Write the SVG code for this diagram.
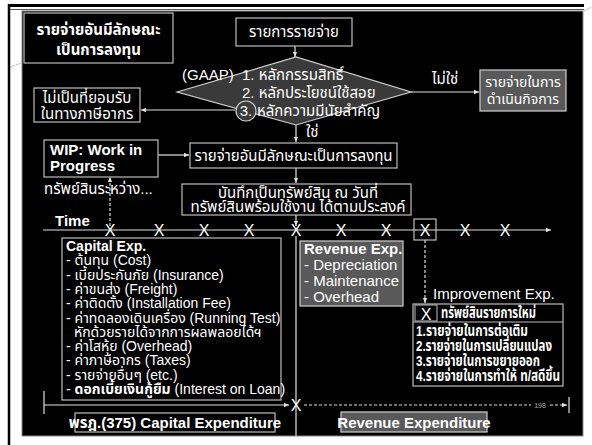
<svg xmlns="http://www.w3.org/2000/svg" width="592" height="445" viewBox="0 0 592 445">
<defs>
<style>
.t{font-family:"Liberation Sans","Noto Sans Thai","Noto Sans","DejaVu Sans",sans-serif;fill:#fff;font-size:15px}
.s{font-size:14px}
.b{font-weight:bold}
.m{text-anchor:middle}
.box{fill:#000;stroke:#bdbdbd;stroke-width:1.2}
.gbox{fill:#595959;stroke:#cfcfcf;stroke-width:1.2}
.ln{stroke:#e0e0e0;stroke-width:1.2;fill:none}
.dash{stroke-dasharray:3 2}
.x{font-family:"Liberation Sans","DejaVu Sans",sans-serif;fill:#fff;font-size:16px;text-anchor:middle}
</style>
<marker id="ah" viewBox="0 0 8 8" refX="7" refY="4" markerWidth="6" markerHeight="6" orient="auto" markerUnits="userSpaceOnUse">
<path d="M0,1 L7,4 L0,7 z" fill="#e0e0e0"/>
</marker>
</defs>
<rect width="592" height="445" fill="#fff"/>
<g id="frame">
<line x1="9" y1="5.5" x2="584" y2="5.5" stroke="#000" stroke-width="3"/>
<line x1="9" y1="9.5" x2="584" y2="9.5" stroke="#555" stroke-width="1"/>
<line x1="9" y1="4" x2="9" y2="445" stroke="#000" stroke-width="2.5"/>
<rect x="22" y="11" width="561" height="425" fill="#000" stroke="#888" stroke-width="1"/>
<line x1="10" y1="67" x2="22" y2="63" stroke="#999" stroke-width="0.8" stroke-dasharray="2 1"/>
<line x1="584" y1="11" x2="592" y2="7" stroke="#999" stroke-width="0.8" stroke-dasharray="2 1"/>
</g>
<g id="connectors">
<line class="ln" x1="295" y1="46" x2="295" y2="57" marker-end="url(#ah)"/>
<line class="ln" x1="411" y1="92" x2="479" y2="92" marker-end="url(#ah)"/>
<line class="ln" x1="235" y1="110" x2="141" y2="110" marker-end="url(#ah)"/>
<line class="ln" x1="296" y1="125" x2="296" y2="142" marker-end="url(#ah)"/>
<line class="ln" x1="158" y1="155" x2="189" y2="155" marker-end="url(#ah)"/>
<line class="ln" x1="296" y1="168" x2="296" y2="183" marker-end="url(#ah)"/>
<line class="ln" x1="296" y1="215" x2="296" y2="226" marker-end="url(#ah)"/>
<line class="ln dash" x1="110" y1="226" x2="110" y2="177" marker-end="url(#ah)"/>
<line class="ln dash" x1="425" y1="240" x2="425" y2="303" marker-end="url(#ah)"/>
<line class="ln" x1="43" y1="230" x2="551" y2="230" marker-end="url(#ah)"/>
<line class="ln" x1="296" y1="236" x2="296" y2="436"/>
<line class="ln" x1="44" y1="391" x2="44" y2="414"/>
<line class="ln" x1="44" y1="405" x2="289" y2="405" marker-end="url(#ah)"/>
<line class="ln dash" x1="304" y1="405" x2="531" y2="405"/>
<line class="ln dash" x1="550" y1="405" x2="567" y2="405" marker-end="url(#ah)"/>
<line class="ln" x1="569" y1="397" x2="569" y2="413"/>
</g>
<g id="title">
<rect class="box" x="24" y="13" width="149" height="50"/>
<text class="t b m" x="98.5" y="35" font-size="16">รายจ่ายอันมีลักษณะ</text>
<text class="t b m" x="98.5" y="55" font-size="16">เป็นการลงทุน</text>
</g>
<g id="expense">
<rect class="box" x="236" y="18" width="116" height="28"/>
<text class="t m" x="294" y="37" font-size="16">รายการรายจ่าย</text>
</g>
<g id="decision">
<polygon points="177,92 296,57 411,92 296,125" fill="#3a3a3a" stroke="#cfcfcf" stroke-width="1.2"/>
<text class="t" x="182" y="80">(GAAP)</text>
<text class="t" x="242" y="80">1. หลักกรรมสิทธิ์</text>
<text class="t" x="242" y="98">2. หลักประโยชน์ใช้สอย</text>
<circle cx="246" cy="111" r="10" fill="#3a3a3a" stroke="#cfcfcf" stroke-width="1.2"/>
<text class="t m" x="246" y="116">3.</text>
<text class="t" x="257" y="116">หลักความมีนัยสำคัญ</text>
</g>
<g id="label-no">
<text class="t" x="432" y="84" font-size="16">ไม่ใช่</text>
</g>
<g id="label-yes">
<text class="t" x="306" y="137" font-size="16">ใช่</text>
</g>
<g id="operating">
<rect class="gbox" x="480" y="70" width="86" height="41"/>
<text class="t s m" x="523" y="87">รายจ่ายในการ</text>
<text class="t s m" x="523" y="104">ดำเนินกิจการ</text>
</g>
<g id="not-tax">
<rect class="box" x="34" y="88" width="106" height="34"/>
<text class="t m" x="87" y="103">ไม่เป็นที่ยอมรับ</text>
<text class="t m" x="87" y="119">ในทางภาษีอากร</text>
</g>
<g id="capital">
<rect class="box" x="190" y="143" width="207" height="25"/>
<text class="t m" x="293.5" y="161">รายจ่ายอันมีลักษณะเป็นการลงทุน</text>
</g>
<g id="wip">
<rect class="box" x="44" y="140" width="114" height="37"/>
<text class="t b" x="50" y="155" font-size="17">WIP: Work in</text>
<text class="t b" x="50" y="171" font-size="17">Progress</text>
</g>
<g id="wip-label">
<text class="t" x="44" y="194">ทรัพย์สินระหว่าง...</text>
</g>
<g id="record">
<rect class="box" x="182" y="184" width="229" height="31"/>
<text class="t m" x="298" y="198">บันทึกเป็นทรัพย์สิน ณ วันที่</text>
<text class="t m" x="298" y="212">ทรัพย์สินพร้อมใช้งาน ได้ตามประสงค์</text>
</g>
<g id="timeline">
<text class="t b" x="55" y="226" font-size="16">Time</text>
<text class="x" x="110" y="236">X</text>
<text class="x" x="159" y="236">X</text>
<text class="x" x="204" y="236">X</text>
<text class="x" x="249" y="236">X</text>
<text class="x" x="296" y="236">X</text>
<text class="x" x="341" y="236">X</text>
<text class="x" x="386" y="236">X</text>
<rect x="414" y="219" width="22" height="21" fill="none" stroke="#bdbdbd" stroke-width="1.2"/>
<text class="x" x="425" y="236">X</text>
<text class="x" x="465" y="236">X</text>
<text class="x" x="505" y="236">X</text>
</g>
<g id="capital-exp">
<rect class="box" x="62" y="238" width="219" height="162"/>
<text class="t s b" x="66" y="251">Capital Exp.</text>
<text class="t s" x="66" y="265">- ต้นทุน (Cost)</text>
<text class="t s" x="66" y="279.5">- เบี้ยประกันภัย (Insurance)</text>
<text class="t s" x="66" y="294">- ค่าขนส่ง (Freight)</text>
<text class="t s" x="66" y="308">- ค่าติดตั้ง (Installation Fee)</text>
<text class="t s" x="66" y="322.5">- ค่าทดลองเดินเครื่อง (Running Test)</text>
<text class="t s" x="74" y="336.5">หักด้วยรายได้จากการผลพลอยได้ฯ</text>
<text class="t s" x="66" y="351">- ค่าโสหุ้ย (Overhead)</text>
<text class="t s" x="66" y="365">- ค่าภาษีอากร (Taxes)</text>
<text class="t s" x="66" y="379.5">- รายจ่ายอื่นๆ (etc.)</text>
<text class="t s" x="66" y="394">- <tspan class="b">ดอกเบี้ยเงินกู้ยืม</tspan> (Interest on Loan)</text>
</g>
<g id="revenue-exp">
<rect class="gbox" x="300" y="241" width="103" height="65"/>
<text class="t b" x="304" y="254">Revenue Exp.</text>
<text class="t" x="304" y="270">- Depreciation</text>
<text class="t" x="304" y="286">- Maintenance</text>
<text class="t" x="304" y="302">- Overhead</text>
</g>
<g id="improvement">
<text class="t" x="433" y="299" font-size="14">Improvement Exp.</text>
<rect class="box" x="413" y="304" width="150" height="82"/>
<line x1="413" y1="322" x2="563" y2="322" stroke="#bdbdbd" stroke-width="1.2"/>
<rect x="415" y="305" width="22" height="16" fill="none" stroke="#bdbdbd" stroke-width="1"/>
<text class="x" x="426" y="320" font-size="17">X</text>
<text class="t b" x="441" y="318" font-size="13" textLength="95" lengthAdjust="spacingAndGlyphs">ทรัพย์สินรายการใหม่</text>
<text class="t b" x="416" y="336" font-size="13" textLength="112" lengthAdjust="spacingAndGlyphs">1.รายจ่ายในการต่อเติม</text>
<text class="t b" x="416" y="351" font-size="13" textLength="136" lengthAdjust="spacingAndGlyphs">2.รายจ่ายในการเปลี่ยนแปลง</text>
<text class="t b" x="416" y="366" font-size="13" textLength="124" lengthAdjust="spacingAndGlyphs">3.รายจ่ายในการขยายออก</text>
<text class="t b" x="416" y="381" font-size="13" textLength="144" lengthAdjust="spacingAndGlyphs">4.รายจ่ายในการทำให้ ท/สดีขึ้น</text>
</g>
<g id="split">
<text class="x" x="296" y="411" font-size="18">X</text>
<text x="540" y="408" font-family="Liberation Sans, sans-serif" font-size="7" fill="#aaa" text-anchor="middle">198</text>
</g>
<g id="capital-expenditure">
<rect class="box" x="75" y="413" width="200" height="19"/>
<text class="t b m" x="175" y="428" font-size="14">พรฎ.(375) Capital Expenditure</text>
</g>
<g id="revenue-expenditure">
<rect class="gbox" x="341" y="412" width="146" height="20"/>
<text class="t b m" x="414" y="428">Revenue Expenditure</text>
</g>
</svg>
